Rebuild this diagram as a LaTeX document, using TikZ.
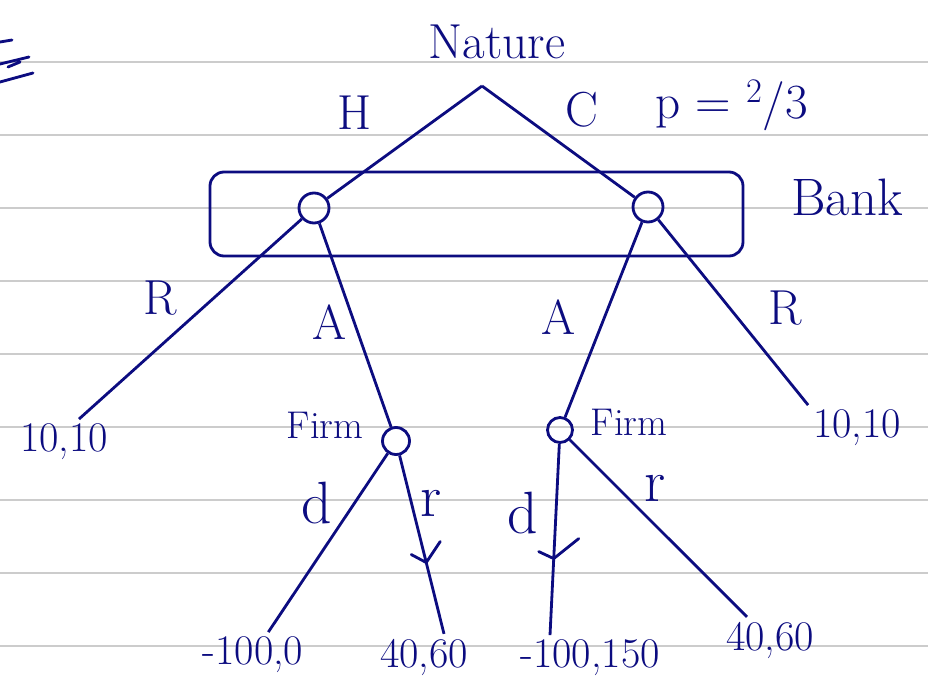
\documentclass[tikz,border=0pt]{standalone}
\usepackage{fontspec}
\usetikzlibrary{positioning, calc}

\definecolor{ink}{RGB}{12,12,128}
\definecolor{paperline}{RGB}{204,204,204}

\begin{document}
\begin{tikzpicture}[x=0.02cm, y=-0.02cm, line width=1.6pt, color=ink,
    hand/.style={font=\fontsize{28}{34}\selectfont, inner sep=1pt},
    bighand/.style={font=\fontsize{34}{40}\selectfont, inner sep=1pt},
    small/.style={font=\fontsize{22}{26}\selectfont, inner sep=1pt},
    payoff/.style={font=\fontsize{24}{28}\selectfont, inner sep=2pt},
    decision/.style={circle, draw, minimum size=0.6cm, inner sep=0pt}]

    \useasboundingbox (0,0) rectangle (928,686);

    % Paper lines
    \foreach \y in {62,135,...,646}
        \draw[paperline, line width=0.8pt] (0,\y) -- (928,\y);

    % Mark at the top left
    \draw[line cap=round] (0,42) -- (12,40);
    \draw[line cap=round] (0,64) -- (29,57) (8,67) -- (20,62);
    \draw[line cap=round] (0,82) -- (33,73);

    % Nature
    \coordinate (nature) at (482,86);
    \node[hand] (naturelab) at (497,42) {Nature};

    % Bank (information set)
    \node[decision] (b1) at (314,208) {};
    \node[decision] (b2) at (648,207) {};
    \draw[rounded corners=8pt] (210,172) rectangle (743,256);
    \node[hand, font=\fontsize{30}{36}\selectfont] (banklab) at (847,197) {Bank};

    % Firm
    \node[decision, minimum size=0.54cm] (f1) at (396,441) {};
    \node[decision, minimum size=0.5cm] (f2) at (560,430) {};
    \node[small] (firm1) at (325,425) {Firm};
    \node[small] (firm2) at (629,422) {Firm};

    % Payoffs
    \node[payoff] (t1) at (64,442) {10,10};
    \node[payoff] (t2) at (857,428) {10,10};
    \node[payoff] (o1) at (253,655) {-100,0};
    \node[payoff] (o2) at (424,657) {40,60};
    \node[payoff] (o3) at (590,658) {-100,150};
    \node[payoff] (o4) at (770,640) {40,60};

    % Branches
    \draw (nature) -- (b1);
    \draw (nature) -- (b2);
    \draw (b1) -- ([xshift=0.3cm]t1.north);
    \draw (b1) -- (f1);
    \draw (b2) -- (f2);
    \draw (b2) -- (t2.north west);
    \draw (f1) -- (o1);
    \draw (f1) -- coordinate[pos=0.6] (k1) ([xshift=0.4cm]o2.north);
    \draw (f2) -- coordinate[pos=0.6] (k2) ([xshift=-0.8cm]o3.north);
    \draw (f2) -- (o4);

    % Ticks
    \draw[line cap=round] ($(k1)+(-15,-8)$) -- (k1) -- ++(14,-21);
    \draw[line cap=round] ($(k2)+(-15,-7)$) -- (k2) -- ++(25,-20);

    % Labels
    \node[hand] (labH) at (355,113) {H};
    \node[hand] (labC) at (582,110) {C};
    \node[hand] (labp) at (732,105) {p = \textsuperscript{2}/3};
    \node[hand] (labR1) at (160,298) {R};
    \node[hand] (labA1) at (330,322) {A};
    \node[hand] (labA2) at (559,317) {A};
    \node[hand] (labR2) at (785,308) {R};
    \node[bighand] (labd1) at (317,503) {d};
    \node[bighand] (labr1) at (431,503) {r};
    \node[bighand] (labd2) at (523,513) {d};
    \node[bighand] (labr2) at (655,488) {r};

\end{tikzpicture}
\end{document}
